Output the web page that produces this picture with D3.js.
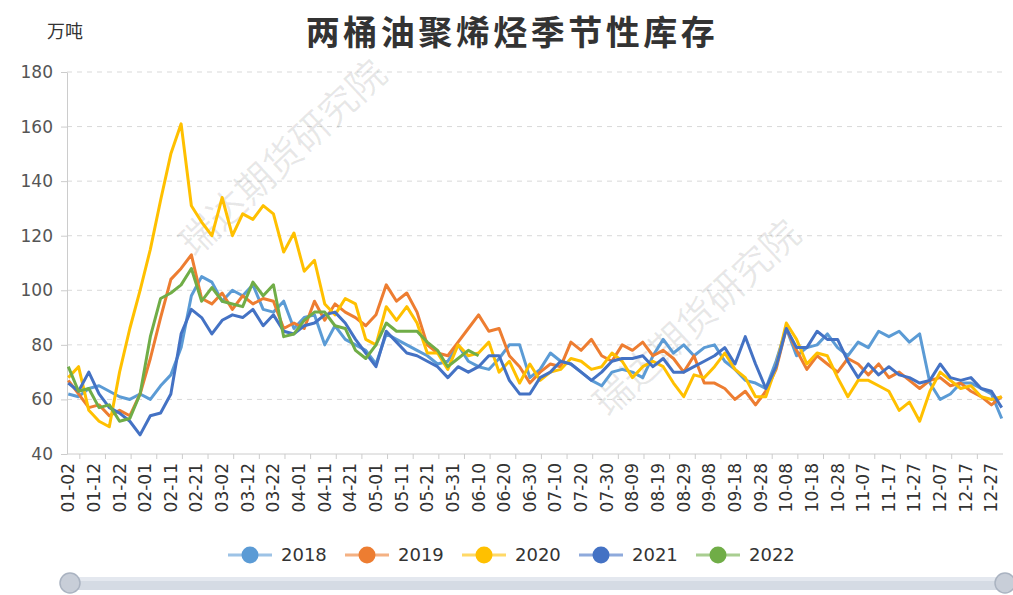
<!DOCTYPE html>
<html>
<head>
<meta charset="utf-8">
<script src="https://cdn.jsdelivr.net/npm/d3@7"></script>
<style>
  html, body { margin: 0; padding: 0; background: #fff; }
  svg { display: block; }
  text { font-family: "DejaVu Sans", "Noto Sans CJK SC", sans-serif; }
</style>
</head>
<body>
<div id="chart"></div>
<script>
// values every 4 days, starting 01-02 (day index 0, 4, 8, ...)
const step = 4;
const years = ["2018", "2019", "2020", "2021", "2022"];
const colors = ["#5B9BD5", "#ED7D31", "#FFC000", "#4472C4", "#70AD47"];

const v2018 = [62,61,64,65,63,61,60,62,60,65,69,79,98,105,103,96,100,98,102,93,
  92,96,86,90,91,80,87,82,80,78,73,84,82,80,78,76,73,74,80,74,
  72,71,75,80,80,68,71,77,74,73,70,67,65,70,71,70,68,76,82,77,
  80,76,79,80,74,71,67,66,64,74,86,76,79,80,84,79,76,81,79,85,
  83,85,81,84,66,60,62,66,66,64,62,53];
const v2019 = [67,62,57,58,54,56,54,62,75,90,104,108,113,97,95,99,93,98,95,97,
  96,86,88,86,96,89,95,92,90,87,91,102,96,99,92,80,77,76,81,86,
  91,85,86,76,72,66,70,73,72,81,78,82,76,74,80,78,81,76,78,75,
  70,76,66,66,64,60,63,58,63,71,86,78,71,76,73,70,75,73,69,73,
  68,70,67,64,67,68,65,66,63,61,58,61];
const v2020 = [68,72,56,52,50,70,86,100,115,133,150,161,131,125,120,134,120,128,126,131,
  128,114,121,107,111,95,91,97,95,82,80,94,89,94,88,77,77,71,80,76,
  77,81,70,74,66,73,67,70,71,75,74,71,72,77,74,68,72,74,72,66,
  61,69,68,72,77,71,68,61,61,72,88,82,73,77,76,68,61,67,67,65,
  63,56,59,52,63,70,67,64,65,61,60,61];
const v2021 = [66,63,70,62,57,55,52,47,54,55,62,84,93,90,84,89,91,90,93,87,
  91,85,84,87,88,91,92,88,82,77,72,85,81,77,76,74,72,68,72,70,
  72,76,76,67,62,62,68,70,74,73,70,67,70,74,75,75,76,72,75,70,
  70,72,74,76,79,73,83,73,64,72,86,79,79,85,82,82,74,68,73,69,
  72,69,68,66,67,73,68,67,68,64,63,57];
const v2022 = [72,63,64,57,58,52,53,62,83,97,99,102,108,96,101,96,95,94,103,98,
  102,83,84,89,92,92,87,86,78,75,80,88,85,85,85,81,78,72,75,78,
  76];

const yTicks = [40, 60, 80, 100, 120, 140, 160, 180];
const xTickLabels = ["01-02","01-12","01-22","02-01","02-11","02-21","03-02","03-12","03-22",
  "04-01","04-11","04-21","05-01","05-11","05-21","05-31","06-10","06-20","06-30","07-10",
  "07-20","07-30","08-09","08-19","08-29","09-08","09-18","09-28","10-08","10-18","10-28",
  "11-07","11-17","11-27","12-07","12-17","12-27"];

const width = 1013, height = 595,
      margin = ({ top: 72, right: 10, bottom: 141, left: 67 });

// one category per calendar day (leap year, as in the chart's 02-29 -> 03-02 labels)
const fmt = d3.timeFormat("%m-%d");
const days = d3.timeDay.range(new Date(2020, 0, 2), new Date(2021, 0, 1)).map(fmt);

const svg = d3.select("#chart")
  .append("svg")
  .attr("width", width)
  .attr("height", height)
  .attr("viewBox", [0, 0, width, height]);

const x = d3.scaleBand()
  .domain(days)
  .range([margin.left, width - margin.right]);

const y = d3.scaleLinear()
  .domain([40, 180])
  .range([height - margin.bottom, margin.top]);

// title and unit
svg.append("text")
  .attr("x", 512).attr("y", 45)
  .attr("text-anchor", "middle")
  .style("font-family", "'Noto Sans CJK SC', sans-serif")
  .style("font-size", "34px")
  .style("font-weight", "bold")
  .style("letter-spacing", "3.5px")
  .attr("fill", "#333")
  .text("两桶油聚烯烃季节性库存");

svg.append("text")
  .attr("x", 65).attr("y", 38)
  .attr("text-anchor", "middle")
  .style("font-family", "'Noto Sans CJK SC', sans-serif")
  .style("font-size", "18px")
  .attr("fill", "#333")
  .text("万吨");

// grid lines
svg.append("g")
  .selectAll("line")
  .data(yTicks.slice(1))
  .join("line")
    .attr("x1", margin.left)
    .attr("x2", width - margin.right)
    .attr("y1", d => y(d))
    .attr("y2", d => y(d))
    .attr("stroke", "#d9d9d9")
    .attr("stroke-dasharray", "5,5");

// watermark
const wm = [[283, 158], [697, 318]];
svg.append("g")
  .selectAll("text")
  .data(wm)
  .join("text")
    .attr("transform", d => `translate(${d[0]},${d[1]}) rotate(-43)`)
    .attr("text-anchor", "middle")
    .attr("dy", "0.35em")
    .style("font-family", "'Noto Sans CJK SC', sans-serif")
    .style("font-size", "38px")
    .attr("fill", "#000")
    .attr("fill-opacity", 0.09)
    .text("瑞达期货研究院");

// y axis
const yAxis = svg.append("g")
  .attr("transform", `translate(${margin.left},0)`)
  .call(d3.axisLeft(y)
    .tickValues(yTicks)
    .tickSize(6)
    .tickPadding(8)
    .tickSizeOuter(0));
yAxis.select(".domain").attr("stroke", "#ccc");
yAxis.selectAll(".tick line").attr("stroke", "#ccc");
yAxis.selectAll(".tick text")
  .attr("fill", "#555")
  .style("font-size", "17px");

// x axis: labels every 10 days, ticks between them
const xAxisG = svg.append("g")
  .attr("transform", `translate(0,${height - margin.bottom})`);
xAxisG.append("line")
  .attr("x1", margin.left).attr("x2", width - margin.right)
  .attr("stroke", "#ccc");
const tickDays = days.filter((d, i) => i % 10 === 5);
xAxisG.selectAll(".tk")
  .data(tickDays)
  .join("line")
    .attr("class", "tk")
    .attr("x1", d => x(d)).attr("x2", d => x(d))
    .attr("y1", 0).attr("y2", 5)
    .attr("stroke", "#ccc");
xAxisG.selectAll(".lb")
  .data(xTickLabels)
  .join("text")
    .attr("class", "lb")
    .attr("transform", d => `translate(${x(d) + x.bandwidth() / 2},9) rotate(-90)`)
    .attr("text-anchor", "end")
    .attr("dy", "0.35em")
    .attr("fill", "#333")
    .style("font-size", "17px")
    .text(d => d);

// series lines
const seriesValues = [v2018, v2019, v2020, v2021, v2022];
const series = years.map((yr, k) => ({
  year: yr,
  color: colors[k],
  points: seriesValues[k].map((v, j) => ({ day: days[j * step], value: v }))
}));

const line = d3.line()
  .x(d => x(d.day) + x.bandwidth() / 2)
  .y(d => y(d.value));

svg.append("g")
  .selectAll("path")
  .data(series)
  .join("path")
    .attr("fill", "none")
    .attr("stroke", d => d.color)
    .attr("stroke-width", 3)
    .attr("stroke-linejoin", "round")
    .attr("d", d => line(d.points));

// legend
const legend = svg.append("g")
  .selectAll("g")
  .data(series)
  .join("g")
    .attr("transform", (d, i) => `translate(${250 + i * 117},555)`);
legend.append("line")
  .attr("x1", -22).attr("x2", 22)
  .attr("stroke", d => d.color)
  .attr("stroke-opacity", 0.6)
  .attr("stroke-width", 3);
legend.append("circle")
  .attr("r", 8.5)
  .attr("fill", d => d.color);
legend.append("text")
  .attr("x", 31)
  .attr("dy", "0.36em")
  .attr("fill", "#333")
  .style("font-size", "18px")
  .text(d => d.year);

// data zoom slider
const slider = svg.append("g");
slider.append("rect")
  .attr("x", 70).attr("y", 577)
  .attr("width", 935).attr("height", 13)
  .attr("rx", 2)
  .attr("fill", "#d5dbe4");
slider.append("rect")
  .attr("x", 70).attr("y", 577)
  .attr("width", 935).attr("height", 4)
  .attr("fill", "#e4e8ef");
slider.selectAll("circle")
  .data([70, 1005])
  .join("circle")
    .attr("cx", d => d).attr("cy", 583)
    .attr("r", 10)
    .attr("fill", "#c8ced8")
    .attr("stroke", "#aab3c1")
    .attr("stroke-width", 1.5);
</script>
</body>
</html>
